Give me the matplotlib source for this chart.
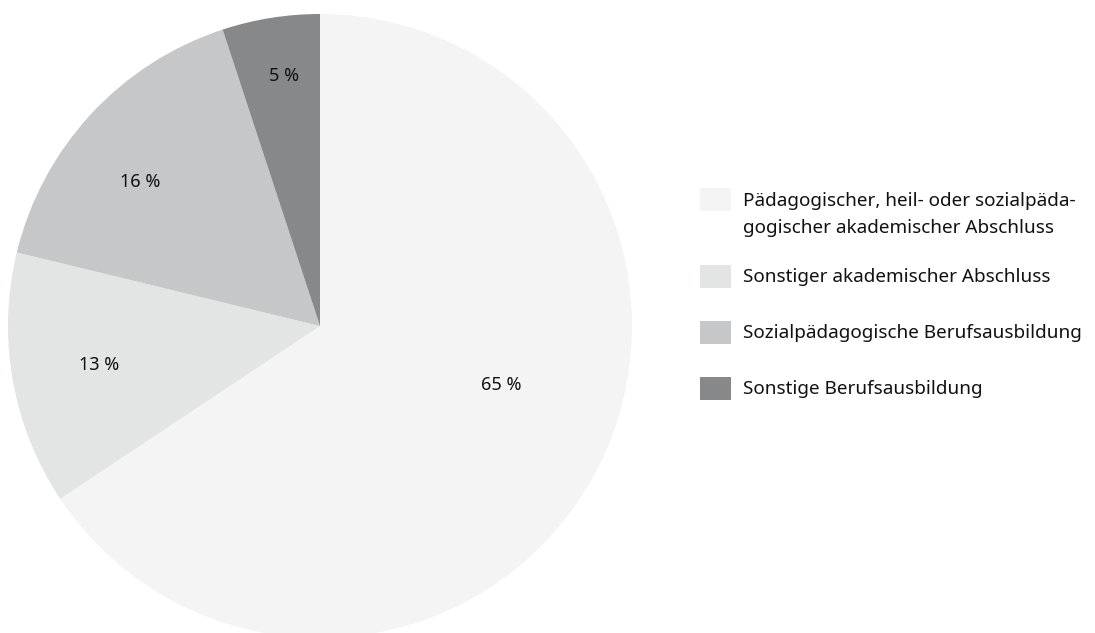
import numpy as np
import matplotlib
matplotlib.use("Agg")
import matplotlib.pyplot as plt
from matplotlib.patches import Rectangle

categories = [
    "Pädagogischer, heil- oder sozialpäda-\ngogischer akademischer Abschluss",
    "Sonstiger akademischer Abschluss",
    "Sozialpädagogische Berufsausbildung",
    "Sonstige Berufsausbildung",
]
shares = [65, 13, 16, 5]
colors = ["#f4f4f4", "#e3e4e4", "#c6c7c8", "#87888a"]

# label placement tweaks (radius fraction, angle offset in degrees)
label_r = [0.61, 0.72, 0.74, 0.81]
label_da = [10, 0, 4, -1]

plt.rcParams['font.family'] = ['Noto Sans', 'DejaVu Sans']

W, H = 1095, 633
fig = plt.figure(figsize=(W / 100, H / 100), dpi=100)
cx, cy, r = 320, 326, 312
ax = fig.add_axes([(cx - r) / W, (H - cy - r) / H, 2 * r / W, 2 * r / H])
ax.axis("off")

wedges, _ = ax.pie(shares, colors=colors, startangle=90, counterclock=False,
                   radius=1, wedgeprops=dict(linewidth=0))
ax.set_xlim(-1, 1)
ax.set_ylim(-1, 1)
ax.set_aspect("equal")

for w, v, rr, da in zip(wedges, shares, label_r, label_da):
    mid = np.deg2rad((w.theta1 + w.theta2) / 2 + da)
    ax.text(rr * np.cos(mid), rr * np.sin(mid), f"{v} %", ha="center",
            va="center", fontsize=13, color="#111111")

# manual legend
ys = [200, 276, 332, 388]
for lab, col, y in zip(categories, colors, ys):
    fig.patches.append(Rectangle((700 / W, (H - y - 11.5) / H), 31 / W, 23 / H,
                                 transform=fig.transFigure, facecolor=col,
                                 edgecolor="none"))
    for i, line in enumerate(lab.split("\n")):
        fig.text(743 / W, (H - y - 6 - 27 * i) / H, line, ha="left",
                 va="baseline", fontsize=13.6, color="#111111")

fig.savefig("out.png", dpi=100, facecolor="white")
